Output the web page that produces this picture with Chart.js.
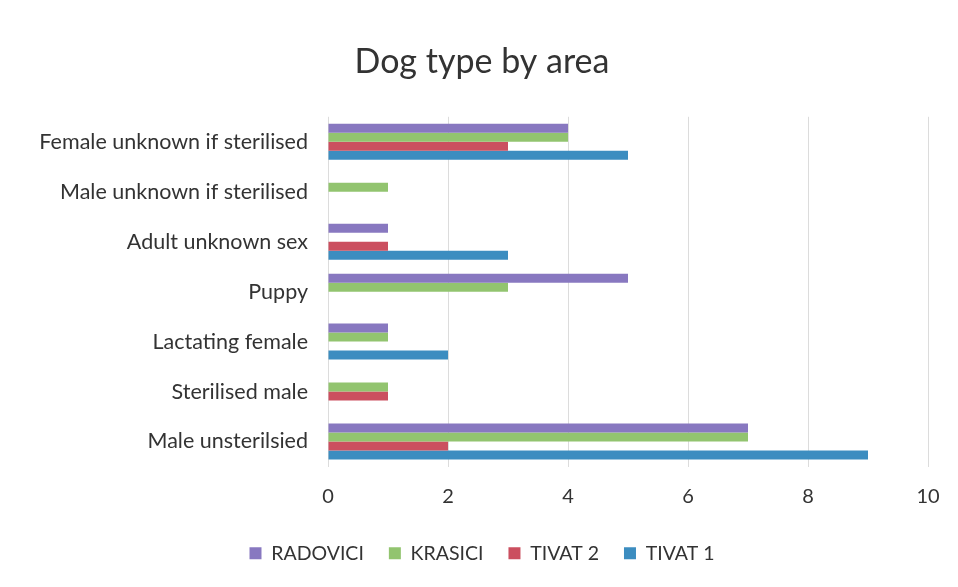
<!DOCTYPE html>
<html>
<head>
<meta charset="utf-8">
<script src="https://cdn.jsdelivr.net/npm/chart.js@4"></script>
<style>
  html, body { margin: 0; padding: 0; background: #fff; }
  #wrap { width: 958px; height: 587px; position: relative; }
</style>
</head>
<body>
<div id="wrap"><canvas id="dogs"></canvas></div>
<script>
// categories top to bottom
var categories = [
  "Female unknown if sterilised",
  "Male unknown if sterilised",
  "Adult unknown sex",
  "Puppy",
  "Lactating female",
  "Sterilised male",
  "Male unsterilsied"
];
var radovici = [4, 0, 1, 5, 1, 0, 7];
var krasici = [4, 1, 0, 3, 1, 1, 7];
var tivat2 = [3, 0, 1, 0, 0, 1, 2];
var tivat1 = [5, 0, 3, 0, 2, 0, 9];
var xTicks = [0, 2, 4, 6, 8, 10];

var font = "Lato, 'Open Sans', sans-serif";

new Chart(document.getElementById("dogs"), {
  type: "bar",
  data: {
    labels: categories,
    datasets: [
      { label: "RADOVICI", data: radovici, backgroundColor: "#8878c0" },
      { label: "KRASICI", data: krasici, backgroundColor: "#92c46f" },
      { label: "TIVAT 2", data: tivat2, backgroundColor: "#cb4f5f" },
      { label: "TIVAT 1", data: tivat1, backgroundColor: "#3c8dc0" }
    ]
  },
  options: {
    indexAxis: "y",
    responsive: true,
    maintainAspectRatio: false,
    animation: false,
    categoryPercentage: 0.72,
    barPercentage: 1.0,
    layout: { padding: { top: 42, right: 30, bottom: 14, left: 36 } },
    scales: {
      x: {
        min: 0,
        max: 10,
        afterBuildTicks: function (axis) {
          axis.ticks = xTicks.map(function (v) { return { value: v }; });
        },
        grid: { color: "#dcdcdc", drawTicks: false },
        border: { display: false },
        ticks: { padding: 18, color: "#333", font: { family: font, size: 20 } },
        afterFit: function (axis) { axis.height = 52; }
      },
      y: {
        grid: { display: false },
        border: { display: false },
        ticks: { padding: 12, color: "#333", font: { family: font, size: 21.5 } },
        afterFit: function (axis) { axis.width = 292; }
      }
    },
    plugins: {
      title: {
        display: true,
        text: "Dog type by area",
        color: "#333",
        font: { family: font, size: 34, weight: "normal" },
        padding: { top: 0, bottom: 34 }
      },
      legend: {
        position: "bottom",
        labels: {
          color: "#333",
          font: { family: font, size: 19.5 },
          boxWidth: 12,
          boxHeight: 12,
          padding: 25
        }
      },
      tooltip: { enabled: false }
    }
  }
});
</script>
</body>
</html>
